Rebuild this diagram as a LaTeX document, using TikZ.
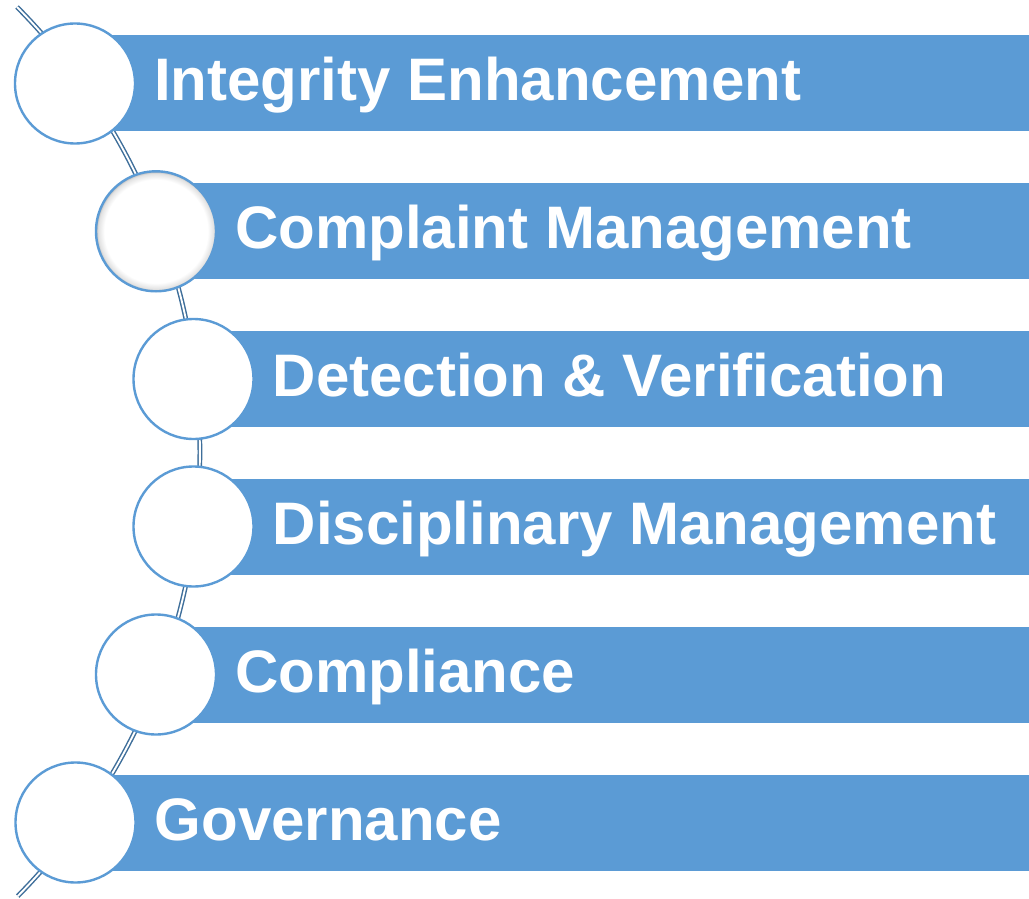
\documentclass[tikz,border=0pt]{standalone}
\usepackage{fontspec}
\setmainfont{Liberation Sans}
\definecolor{barblue}{HTML}{5B9BD5}
\definecolor{linedark}{HTML}{3E6E9A}
\pgfdeclareradialshading{softedge}{\pgfpoint{0bp}{0bp}}{color(0bp)=(white); color(21.5bp)=(white); color(24.2bp)=(black!12); color(25bp)=(black!30); color(50bp)=(black!30)}
\begin{document}
\begin{tikzpicture}[x=0.75pt,y=-0.75pt,
  bar/.style={draw=none,fill=barblue,rectangle,anchor=west,minimum width=720pt,minimum height=72pt,inner sep=0},
  ring/.style={circle,draw=barblue,line width=1.8pt,fill=white,minimum size=90pt,inner sep=0},
  softring/.style={ring,shading=softedge},
  label/.style={anchor=base west,inner sep=0,text=white,font=\bfseries\fontsize{45pt}{50pt}\selectfont},
  spine/.style={draw=linedark,line width=1.1pt,double=white,double distance=1.4pt}]
\useasboundingbox (0,0) rectangle (1029,899);
\coordinate (top) at (17,7);
\draw[spine] (top) arc[start angle=-44.7,end angle=44.6,radius=632.6];
% bars
\node[bar] (b1) at (75,83.5) {};
\node[bar] (b2) at (156,231.3) {};
\node[bar] (b3) at (193.5,379) {};
\node[bar] (b4) at (193.5,526.5) {};
\node[bar] (b5) at (156,674.5) {};
\node[bar] (b6) at (75.5,822.5) {};
% circles
\node[ring] (c1) at (75,83.5) {};
\node[softring,draw=barblue] (c2) at (156,231.3) {};
\node[ring] (c3) at (193.5,379) {};
\node[ring] (c4) at (193.5,526.5) {};
\node[ring] (c5) at (156,674.5) {};
\node[ring] (c6) at (75.5,822.5) {};
% labels
\node[label] (t1) at (154,101) {Integrity Enhancement};
\node[label] (t2) at (235,248.8) {Complaint Management};
\node[label] (t3) at (272.5,396.5) {Detection \& Verification};
\node[label] (t4) at (272.5,544) {Disciplinary Management};
\node[label] (t5) at (235,692) {Compliance};
\node[label] (t6) at (154.5,840) {Governance};
\end{tikzpicture}
\end{document}
